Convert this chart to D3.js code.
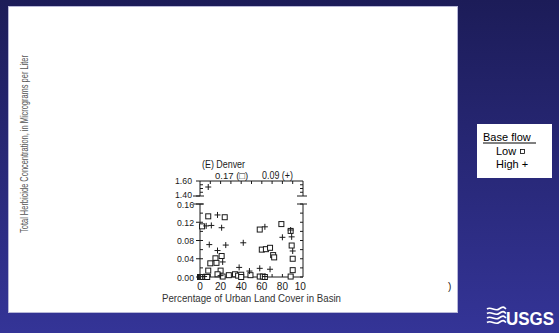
<!DOCTYPE html>
<html>
<head>
<meta charset="utf-8">
<script src="https://cdn.jsdelivr.net/npm/d3@7"></script>
<style>
  html, body { margin: 0; padding: 0; }
  body { width: 559px; height: 333px; overflow: hidden; }
</style>
</head>
<body>
<div id="chart"></div>
<script>
(function () {
  // ---- data ----
  const xTicks = [0, 20, 40, 60, 80, 100];
  const yLowTicks = [0, 0.04, 0.08, 0.12, 0.16];
  const yUpTicks = [1.40, 1.60];

  // low base flow (squares): [urban %, concentration]
  const lowX = [8, 24, 2, 21, 15, 10, 16, 8, 20, 17, 28, 34, 37, 40, 49,
                58, 79, 88, 60, 64, 68, 89, 71, 72, 90, 90, 58, 61, 88,
                0, 1, 2, 3, 5, 7, 22, 40, 63];
  const lowY = [0.133, 0.131, 0.111, 0.046, 0.041, 0.030, 0.031, 0.014, 0.014, 0.006, 0.004, 0.006, 0.003, 0.005, 0.004,
                0.104, 0.116, 0.101, 0.060, 0.061, 0.064, 0.069, 0.048, 0.043, 0.040, 0.015, 0.001, 0.001, 0.001,
                0, 0, 0, 0, 0, 0, 0.001, 0, 0];

  // high base flow (plus)
  const highX = [17, 6, 11, 21, 9, 25, 42, 17, 22, 63, 88, 80, 89, 90, 58, 68, 38, 48, 20, 4, 63];
  const highY = [0.136, 0.112, 0.113, 0.108, 0.071, 0.070, 0.075, 0.058, 0.033, 0.110, 0.103, 0.087, 0.088, 0.057,
                 0.019, 0.017, 0.021, 0.013, 0.003, 0.001, 0.001];
  // points above the break
  const highUpX = [8];
  const highUpY = [1.52];

  const W = 559, H = 333;
  const svg = d3.select("#chart").append("svg")
    .attr("width", W).attr("height", H);

  // ---- background ----
  const defs = svg.append("defs");
  const grad = defs.append("linearGradient").attr("id", "bg")
    .attr("x1", 0).attr("y1", 0).attr("x2", 0).attr("y2", 1);
  grad.append("stop").attr("offset", "0%").attr("stop-color", "#1c1c58");
  grad.append("stop").attr("offset", "100%").attr("stop-color", "#343497");
  svg.append("rect").attr("width", W).attr("height", H).attr("fill", "url(#bg)");

  defs.append("clipPath").attr("id", "lblclip")
    .append("rect").attr("x", 0).attr("y", 0).attr("width", 306).attr("height", H);

  // white slide panel
  svg.append("rect")
    .attr("x", 8.5).attr("y", 6.5).attr("width", 449).attr("height", 306)
    .attr("fill", "#fff").attr("stroke", "#b8b8d8").attr("stroke-width", 1);

  // ---- scales ----
  const x = d3.scaleLinear().domain([0, 100]).range([200, 303]);
  const yLow = d3.scaleLinear().domain([0, 0.16]).range([277, 204]);
  const yUp = d3.scaleLinear().domain([1.40, 1.60]).range([196, 181]);

  const font = "'Liberation Sans', Arial, sans-serif";
  const ink = "#1a1a1a";
  const g = svg.append("g").attr("fill", "none").attr("stroke", ink).attr("stroke-width", 1);

  const x0 = x(0), x1 = x(100);
  // frame lines
  g.append("line").attr("x1", x0).attr("x2", x1).attr("y1", yUp(1.60)).attr("y2", yUp(1.60));
  g.append("line").attr("x1", x0).attr("x2", x1).attr("y1", yLow(0)).attr("y2", yLow(0));
  [x0, x1].forEach(xx => {
    g.append("line").attr("x1", xx).attr("x2", xx).attr("y1", yUp(1.60)).attr("y2", yUp(1.40));
    g.append("line").attr("x1", xx).attr("x2", xx).attr("y1", yLow(0.16)).attr("y2", yLow(0));
  });
  // break marks
  [yUp(1.40), yLow(0.16)].forEach(yy => {
    g.append("line").attr("x1", x0 - 7).attr("x2", x0 + 4).attr("y1", yy).attr("y2", yy);
    g.append("line").attr("x1", x1 - 6).attr("x2", x1 + 4).attr("y1", yy).attr("y2", yy);
  });

  // inward ticks
  d3.range(0, 0.161, 0.02).forEach(v => {
    g.append("line").attr("x1", x0).attr("x2", x0 + 3).attr("y1", yLow(v)).attr("y2", yLow(v));
    g.append("line").attr("x1", x1).attr("x2", x1 - 3).attr("y1", yLow(v)).attr("y2", yLow(v));
  });
  yLowTicks.forEach(v => {
    g.append("line").attr("x1", x0 - 4).attr("x2", x0).attr("y1", yLow(v)).attr("y2", yLow(v));
  });
  [1.45, 1.50, 1.55].forEach(v => {
    g.append("line").attr("x1", x0).attr("x2", x0 + 3).attr("y1", yUp(v)).attr("y2", yUp(v));
    g.append("line").attr("x1", x1).attr("x2", x1 - 3).attr("y1", yUp(v)).attr("y2", yUp(v));
  });
  yUpTicks.forEach(v => {
    g.append("line").attr("x1", x0 - 4).attr("x2", x0).attr("y1", yUp(v)).attr("y2", yUp(v));
  });
  d3.range(10, 100, 10).forEach(v => {
    g.append("line").attr("x1", x(v)).attr("x2", x(v)).attr("y1", yLow(0)).attr("y2", yLow(0) - 3);
    g.append("line").attr("x1", x(v)).attr("x2", x(v)).attr("y1", yUp(1.60)).attr("y2", yUp(1.60) + 3);
  });

  // tick labels
  const lbl = svg.append("g").attr("font-family", font).attr("font-size", 10)
    .attr("fill", ink);
  lbl.selectAll(".yl").data(yLowTicks).join("text")
    .attr("x", x0 - 6).attr("y", d => yLow(d) + (d === 0.16 ? 4 : 3.5))
    .attr("font-size", 9.5)
    .attr("text-anchor", "end").attr("textLength", 17).attr("lengthAdjust", "spacingAndGlyphs")
    .text(d => d.toFixed(2));
  lbl.selectAll(".yu").data(yUpTicks).join("text")
    .attr("x", x0 - 8).attr("y", d => yUp(d) + (d === 1.40 ? 1.5 : 3))
    .attr("font-size", 9.5)
    .attr("text-anchor", "end").attr("textLength", 17).attr("lengthAdjust", "spacingAndGlyphs")
    .text(d => d.toFixed(2));
  lbl.append("g").attr("clip-path", "url(#lblclip)")
    .selectAll("text").data(xTicks).join("text")
    .attr("x", d => x(d)).attr("y", 290)
    .attr("text-anchor", "middle").text(d => d);
  lbl.append("text").attr("x", 448).attr("y", 290).text(")");

  // titles
  lbl.append("text").attr("x", 202).attr("y", 168)
    .attr("textLength", 43).attr("lengthAdjust", "spacingAndGlyphs").text("(E) Denver");
  lbl.append("text").attr("x", 215).attr("y", 179).attr("font-size", 9.5).text("0.17 (\u25a1)");
  lbl.append("text").attr("x", 262).attr("y", 179)
    .attr("textLength", 31).attr("lengthAdjust", "spacingAndGlyphs").text("0.09 (+)");

  svg.append("text")
    .attr("x", 162).attr("y", 302)
    .attr("font-family", font).attr("font-size", 10.5).attr("fill", "#333")
    .attr("textLength", 179).attr("lengthAdjust", "spacingAndGlyphs")
    .text("Percentage of Urban Land Cover in Basin");

  // y label: condensed by a horizontal scale so its box matches what is drawn
  const yl = svg.append("text")
    .attr("font-family", font).attr("font-size", 10.5).attr("fill", "#555")
    .attr("text-anchor", "middle")
    .text("Total Herbicide Concentration, in Micrograms per Liter");
  const ylLen = yl.node().getComputedTextLength() || 260;
  yl.attr("transform", `translate(28,144) rotate(-90) scale(${178 / ylLen},1)`);

  // ---- marks ----
  const marks = svg.append("g").attr("stroke", ink).attr("fill", "none").attr("stroke-width", 1);
  const sq = 5;
  marks.selectAll(".sq").data(d3.range(lowX.length)).join("rect")
    .attr("x", i => x(lowX[i]) - sq / 2).attr("y", i => yLow(lowY[i]) - sq / 2)
    .attr("width", sq).attr("height", sq).attr("fill", "#fff");
  const plus = (sel, xs, ys, yS) => sel.selectAll(null).data(d3.range(xs.length)).join("path")
    .attr("d", i => {
      const cx = x(xs[i]), cy = yS(ys[i]);
      return `M${cx - 3},${cy}H${cx + 3}M${cx},${cy - 3}V${cy + 3}`;
    });
  plus(marks, highX, highY, yLow);
  plus(marks, highUpX, highUpY, yUp);

  // ---- legend ----
  svg.append("rect").attr("x", 477).attr("y", 124).attr("width", 75).attr("height", 54)
    .attr("fill", "#fff");
  const leg = svg.append("g").attr("font-family", font)
    .attr("font-size", 11).attr("fill", "#000");
  leg.append("text").attr("x", 483).attr("y", 141).text("Base flow");
  leg.append("line").attr("x1", 483).attr("x2", 536).attr("y1", 143).attr("y2", 143)
    .attr("stroke", "#000").attr("stroke-width", 1);
  leg.append("text").attr("x", 496).attr("y", 155).text("Low");
  leg.append("rect").attr("x", 520.5).attr("y", 149.5).attr("width", 4).attr("height", 4)
    .attr("fill", "none").attr("stroke", "#000").attr("stroke-width", 0.8);
  leg.append("text").attr("x", 496).attr("y", 168).text("High +");

  // ---- logo ----
  const logo = svg.append("g").attr("stroke", "#fff").attr("fill", "none").attr("stroke-width", 1.6);
  [0, 1, 2, 3].forEach(k => {
    const yy = 309 + k * 4.5;
    logo.append("path").attr("d", `M487,${yy} C491,${yy - 3} 495,${yy + 3} 499,${yy} S504,${yy - 2} 506,${yy}`);
  });
  svg.append("text").attr("x", 506).attr("y", 325)
    .attr("font-family", font).attr("font-weight", "bold").attr("font-size", 19)
    .attr("fill", "#fff").attr("textLength", 48).attr("lengthAdjust", "spacingAndGlyphs")
    .text("USGS");
})();
</script>
</body>
</html>
